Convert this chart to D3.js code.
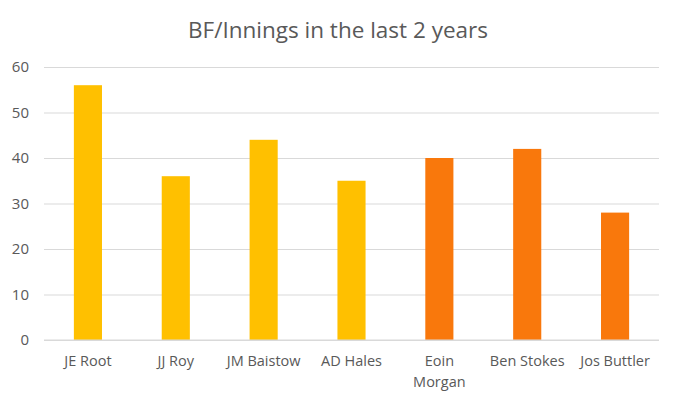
<!DOCTYPE html>
<html>
    <head>
        <script src="https://d3js.org/d3.v7.min.js"></script>
        <style>
            body { margin: 0; background: #fff; }
            svg { display: block; }
            text { font-family: "Open Sans", "Liberation Sans", sans-serif; fill: #595959; }
        </style>
    </head>
    <body>
        <div class="chart"></div>
        <script>
            // chart data
            let players = ["JE Root", "JJ Roy", "JM Baistow", "AD Hales", "Eoin Morgan", "Ben Stokes", "Jos Buttler"];
            let bfPerInnings = [56, 36, 44, 35, 40, 42, 28];
            let barColors = ["#FFC000", "#FFC000", "#FFC000", "#FFC000", "#F9780C", "#F9780C", "#F9780C"];
            let yTicks = [0, 10, 20, 30, 40, 50, 60];

            let width = 677, height = 403;
            let plotLeft = 44, plotRight = 659, plotTop = 67, plotBottom = 340;

            let svg = d3.select("div.chart").append("svg")
                .attr("width", width)
                .attr("height", height);

            // title
            svg.append("text")
                .attr("x", 338)
                .attr("y", 38)
                .attr("text-anchor", "middle")
                .style("font-size", "22.5px")
                .text("BF/Innings in the last 2 years");

            let x = d3.scaleBand()
                .domain(players)
                .range([plotLeft, plotRight])
                .paddingInner(0.68)
                .paddingOuter(0.34);

            let y = d3.scaleLinear()
                .domain([0, 60])
                .range([plotBottom, plotTop]);

            // gridlines + y labels
            let yAxis = svg.append("g")
                .attr("transform", `translate(${plotLeft},0)`)
                .call(d3.axisLeft(y).tickValues(yTicks).tickSize(-(plotRight - plotLeft)).tickPadding(15));
            yAxis.select(".domain").remove();
            yAxis.selectAll(".tick line").attr("stroke", "#d9d9d9");
            yAxis.selectAll(".tick text").style("font-size", "15px").attr("fill", "#595959");

            // bars
            svg.selectAll("rect.bar")
                .data(players)
                .join("rect")
                .attr("class", "bar")
                .attr("x", d => x(d))
                .attr("width", x.bandwidth())
                .attr("y", (d, i) => y(bfPerInnings[i]))
                .attr("height", (d, i) => y(0) - y(bfPerInnings[i]))
                .attr("fill", (d, i) => barColors[i]);

            // baseline
            svg.append("line")
                .attr("x1", plotLeft).attr("x2", plotRight)
                .attr("y1", y(0)).attr("y2", y(0))
                .attr("stroke", "#d9d9d9");

            // category labels (Eoin Morgan wraps)
            let xAxis = svg.append("g")
                .attr("transform", `translate(0,${plotBottom})`)
                .call(d3.axisBottom(x).tickSize(0).tickPadding(16));
            xAxis.select(".domain").remove();
            xAxis.selectAll(".tick text")
                .style("font-size", "14.5px")
                .attr("fill", "#595959")
                .each(function(d) {
                    if (d === "Eoin Morgan") {
                        let t = d3.select(this).text(null);
                        t.append("tspan").attr("x", 0).text("Eoin");
                        t.append("tspan").attr("x", 0).attr("dy", "1.4em").text("Morgan");
                    }
                });
        </script>
    </body>
</html>
